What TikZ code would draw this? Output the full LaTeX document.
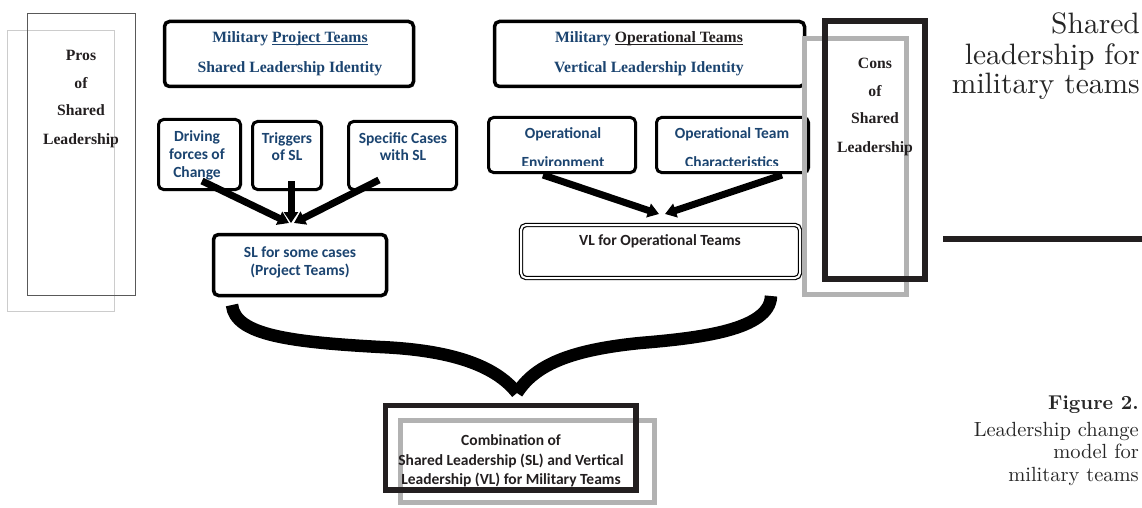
\documentclass[tikz,border=0pt]{standalone}
\usepackage{fontspec}
\newfontfamily\tnr{Liberation Serif}
\newfontfamily\cbr{Carlito}
\newfontfamily\lmten{lmroman10-regular}[Extension=.otf, BoldFont=lmroman10-bold]
\usetikzlibrary{arrows.meta,shadows}
\definecolor{blu}{HTML}{1B4470}
\definecolor{dk}{HTML}{231F20}
\newcommand\myul[1]{\setbox0=\hbox{#1}\leavevmode\rlap{\rule[-2.2pt]{\wd0}{1.1pt}}\box0}
\begin{document}
\begin{tikzpicture}[x=1pt,y=-1pt,
  box/.style={draw, line width=3pt, rounded corners=5pt, fill=white, inner sep=0pt, outer sep=0pt,
    drop shadow={shadow xshift=1.5pt, shadow yshift=-1.5pt, fill=black!30, opacity=0.6}},
  bigbox/.style={box, line width=3.5pt},
  dbox/.style={draw, double, double distance=2pt, line width=1.2pt, rounded corners=5pt, fill=white,
    inner sep=0pt, outer sep=0pt,
    drop shadow={shadow xshift=1.5pt, shadow yshift=-1.5pt, fill=black!30, opacity=0.6}},
  frame/.style={draw, inner sep=0pt, outer sep=0pt},
  tb/.style={font=\tnr\bfseries\fontsize{15.7}{15.7}\selectfont, inner sep=0pt, anchor=base},
  cb/.style={font=\cbr\bfseries\fontsize{15.5}{15.5}\selectfont, inner sep=0pt, anchor=base},
  arr/.style={line width=7pt, -{Triangle[length=11pt,width=14pt]}},
  brace/.style={line width=12.5pt, line cap=butt},
  ttl/.style={font=\lmten\fontsize{29.5}{30}\selectfont, inner sep=0pt, anchor=base east, text=black!85},
  capt/.style={font=\lmten\fontsize{20.5}{22}\selectfont, inner sep=0pt, anchor=base east, text=black!85}
]
\useasboundingbox (0,0) rectangle (1142,508);

% Pros frames
\node[frame, draw=black!20, line width=1pt, minimum width=107pt, minimum height=280.5pt] (prosg) at (61,170.75) {};
\node[frame, draw=black!65, line width=1pt, minimum width=108pt, minimum height=281.5pt] (prosd) at (81.5,154.25) {};
\node[tb, text=dk] (p1) at (81,61) {Pros};
\node[tb, text=dk] (p2) at (81,89) {of};
\node[tb, text=dk] (p3) at (81,116) {Shared};
\node[tb, text=dk] (p4) at (81,144) {Leadership};

% Top boxes
\node[bigbox, minimum width=249pt, minimum height=65pt] (mpt) at (289,54) {};
\node[tb, text=blu] (mpt1) at (290,43) {Military \myul{Project Teams}};
\node[tb, text=blu] (mpt2) at (290,73) {Shared Leadership Identity};

\node[bigbox, minimum width=310pt, minimum height=65pt] (mot) at (649.5,54) {};
\node[tb, text=blu] (mot1) at (649,43) {Military {\color{dk}\myul{Operational Teams}}};
\node[tb, text=blu] (mot2) at (649,73) {Vertical Leadership Identity};

% Left small boxes
\node[box, minimum width=82pt, minimum height=70pt] (drv) at (199.5,154.5) {};
\node[cb, text=blu] (drv1) at (197,142) {Driving};
\node[cb, text=blu] (drv2) at (197,159.5) {forces of};
\node[cb, text=blu] (drv3) at (197,177) {Change};

\node[box, minimum width=69pt, minimum height=68pt] (trg) at (287,155.5) {};
\node[cb, text=blu] (trg1) at (287,143) {Triggers};
\node[cb, text=blu] (trg2) at (287,160.5) {of SL};

\node[box, minimum width=108pt, minimum height=68pt] (spc) at (402.5,155.5) {};
\node[cb, text=blu] (spc1) at (403,143) {Specific Cases};
\node[cb, text=blu] (spc2) at (403,160.5) {with SL};

\node[box, line width=3.5pt, minimum width=173pt, minimum height=61pt] (sl) at (300,265) {};
\node[cb, text=blu] (sl1) at (300,257) {SL for some cases};
\node[cb, text=blu] (sl2) at (300,275) {(Project Teams)};

% Right small boxes
\node[box, minimum width=147pt, minimum height=55pt] (env) at (562,145) {};
\node[box, minimum width=152pt, minimum height=55pt] (chr) at (732.5,145) {};
\node[cb, text=blu] (env1) at (563,139) {Operational};
\node[cb, text=blu] (chr1) at (732,139) {Operational Team};
\begin{scope}
  \clip (480,100) rectangle (815,165.5);
  \node[cb, text=blu] (env2) at (563,167) {Environment};
  \node[cb, text=blu] (chr2) at (732,167) {Characteristics};
\end{scope}

\node[dbox, minimum width=279pt, minimum height=53pt] (vl) at (660.5,251.5) {};
\node[cb, text=dk] (vl1) at (660,245) {VL for Operational Teams};

% Cons frames
\node[frame, draw=black!30, line width=5pt, minimum width=102pt, minimum height=256pt] (consg) at (855,166.5) {};
\node[frame, draw=dk, line width=6pt, minimum width=100pt, minimum height=258pt] (consd) at (875,150) {};
\node[tb, text=dk] (c1) at (875,69) {Cons};
\node[tb, text=dk] (c2) at (875,97) {of};
\node[tb, text=dk] (c3) at (875,124) {Shared};
\node[tb, text=dk] (c4) at (875,152) {Leadership};

% Arrows
\coordinate (a1) at (202,181);
\coordinate (a2) at (291,181);
\coordinate (a3) at (379,180);
\coordinate (t1) at (289,223);
\coordinate (t2) at (291,223);
\coordinate (t3) at (294,223);
\draw[arr] (a1) -- (t1);
\draw[arr] (a2) -- (t2);
\draw[arr] (a3) -- (t3);
\coordinate (b1) at (543,175);
\coordinate (b2) at (782,175);
\coordinate (u1) at (659,214);
\coordinate (u2) at (665,214);
\draw[arr] (b1) -- (u1);
\draw[arr] (b2) -- (u2);

% Brace
\coordinate (bl) at (232,305);
\coordinate (br) at (771,296);
\coordinate (tip) at (517,393);
\draw[brace] (bl) .. controls (235,335) and (290,342) .. (380,347) .. controls (450,350) and (495,365) .. (tip);
\draw[brace] (br) .. controls (770,330) and (700,338) .. (640,343) .. controls (570,350) and (535,365) .. (tip);

% Combination box
\node[frame, draw=black!30, line width=5pt, minimum width=254pt, minimum height=82pt] (combg) at (527.5,461.5) {};
\node[frame, draw=dk, line width=5.5pt, minimum width=250.5pt, minimum height=84.5pt] (combd) at (510.75,447.75) {};
\node[cb, text=dk] (cm1) at (511,445) {Combination of};
\node[cb, text=dk] (cm2) at (511,465) {Shared Leadership (SL) and Vertical};
\node[cb, text=dk] (cm3) at (511,484) {Leadership (VL) for Military Teams};

% Title and rule
\node[ttl] (h1) at (1140,34) {Shared};
\node[ttl] (h2) at (1140,65) {leadership for};
\node[ttl] (h3) at (1140,94) {military teams};
\coordinate (r1) at (943,239);
\coordinate (r2) at (1142,239);
\draw[line width=6pt, draw=dk] (r1) -- (r2);

% Caption
\node[capt, font=\lmten\bfseries\fontsize{20}{22}\selectfont] (f1) at (1139,409) {Figure 2.};
\node[capt] (f2) at (1139,436) {Leadership change};
\node[capt] (f3) at (1139,458) {model for};
\node[capt] (f4) at (1139,481) {military teams};
\end{tikzpicture}
\end{document}
